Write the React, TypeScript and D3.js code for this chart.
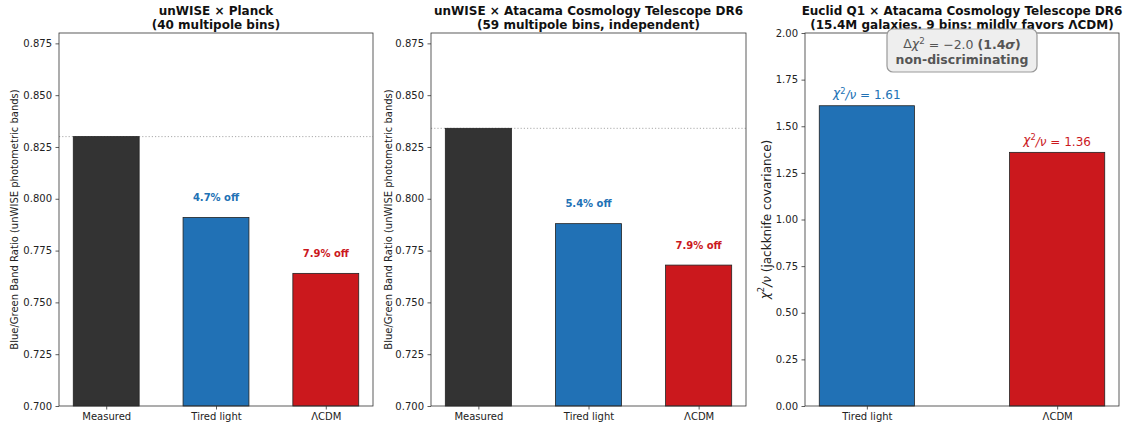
import { useEffect, useRef } from "react";
import * as d3 from "d3";

// bar categories
const ratioCategories = ["Measured", "Tired light", "ΛCDM"];
const chiCategories = ["Tired light", "ΛCDM"];

// blue/green band ratios
const planckValues = [0.83, 0.791, 0.764];
const actValues = [0.834, 0.788, 0.768];
const planckOffLabels = ["", "4.7% off", "7.9% off"];
const actOffLabels = ["", "5.4% off", "7.9% off"];

// reduced chi2 for Euclid Q1 x ACT DR6
const euclidChi2 = [1.61, 1.36];

const ratioTicks = [0.7, 0.725, 0.75, 0.775, 0.8, 0.825, 0.85, 0.875];
const chiTicks = [0, 0.25, 0.5, 0.75, 1.0, 1.25, 1.5, 1.75, 2.0];

const ratioColors = ["#333333", "#2171b5", "#cb181d"];
const chiColors = ["#2171b5", "#cb181d"];

const W = 1133;
const H = 428;
const TOP = 33;
const BOTTOM = 406;
const FONT = "DejaVu Sans, sans-serif";

type Sel = d3.Selection<SVGGElement, unknown, null, undefined>;

function drawFrame(g: Sel, left: number, right: number, y: d3.ScaleLinear<number, number>, ticks: number[], fmt: (v: number) => string) {
  const ax = g
    .append("g")
    .attr("transform", `translate(${left},0)`)
    .call(d3.axisLeft(y).tickValues(ticks).tickFormat((d) => fmt(d as number)).tickSize(3.5).tickPadding(3.5));
  ax.select(".domain").remove();
  ax.selectAll("line").attr("stroke", "#333").attr("stroke-width", 0.8);
  ax.selectAll("text").attr("font-family", FONT).attr("font-size", 10).attr("fill", "#222");
  g.append("rect")
    .attr("x", left)
    .attr("y", TOP)
    .attr("width", right - left)
    .attr("height", BOTTOM - TOP)
    .attr("fill", "none")
    .attr("stroke", "#333")
    .attr("stroke-width", 0.8);
}

function drawXAxis(g: Sel, x: d3.ScaleLinear<number, number>, cats: string[]) {
  const ax = g
    .append("g")
    .attr("transform", `translate(0,${BOTTOM})`)
    .call(d3.axisBottom(x).tickValues(cats.map((_, i) => i)).tickFormat((d) => cats[d as number]).tickSize(3.5).tickPadding(3));
  ax.select(".domain").remove();
  ax.selectAll("line").attr("stroke", "#333").attr("stroke-width", 0.8);
  ax.selectAll("text").attr("font-family", FONT).attr("font-size", 10).attr("fill", "#222");
}

function drawTitle(g: Sel, cx: number, l1: string, l2: string) {
  const t = g
    .append("text")
    .attr("text-anchor", "middle")
    .attr("font-family", FONT)
    .attr("font-size", 12)
    .attr("font-weight", "bold")
    .attr("fill", "#111");
  t.append("tspan").attr("x", cx).attr("y", 15).text(l1);
  t.append("tspan").attr("x", cx).attr("y", 28.5).text(l2);
}

function drawRatioPanel(g: Sel, left: number, right: number, values: number[], offLabels: string[], title: [string, string], ylabelX: number) {
  const y = d3.scaleLinear().domain([0.7, 0.88]).range([BOTTOM, TOP]);
  const x = d3.scaleLinear().domain([-0.43, 2.43]).range([left, right]);
  const bw = x(0.6) - x(0);

  // dotted reference at the measured value
  g.append("line")
    .attr("x1", left)
    .attr("x2", right)
    .attr("y1", y(values[0]))
    .attr("y2", y(values[0]))
    .attr("stroke", "#aaa")
    .attr("stroke-width", 1)
    .attr("stroke-dasharray", "1.2,2");

  g.selectAll(null)
    .data(values)
    .enter()
    .append("rect")
    .attr("x", (_, i) => x(i) - bw / 2)
    .attr("y", (d) => y(d))
    .attr("width", bw)
    .attr("height", (d) => BOTTOM - y(d))
    .attr("fill", (_, i) => ratioColors[i])
    .attr("stroke", "#222")
    .attr("stroke-width", 0.8);

  g.selectAll(null)
    .data(values)
    .enter()
    .append("text")
    .attr("x", (_, i) => x(i))
    .attr("y", (d) => y(d + 0.008))
    .attr("text-anchor", "middle")
    .attr("font-family", FONT)
    .attr("font-size", 10)
    .attr("font-weight", "bold")
    .attr("fill", (_, i) => ratioColors[i])
    .text((_, i) => offLabels[i]);

  drawFrame(g, left, right, y, ratioTicks, d3.format(".3f"));
  drawXAxis(g, x, ratioCategories);
  drawTitle(g, (left + right) / 2, title[0], title[1]);

  g.append("text")
    .attr("transform", `translate(${ylabelX},${(TOP + BOTTOM) / 2}) rotate(-90)`)
    .attr("text-anchor", "middle")
    .attr("dominant-baseline", "central")
    .attr("font-family", FONT)
    .attr("font-size", 10)
    .attr("fill", "#222")
    .text("Blue/Green Band Ratio (unWISE photometric bands)");
}

function chiLabel(t: d3.Selection<SVGTextElement, unknown, null, undefined>, rest: string) {
  t.append("tspan").attr("font-style", "italic").text("χ");
  t.append("tspan").attr("font-size", "0.7em").attr("dy", "-0.45em").text("2");
  t.append("tspan").attr("dy", "0.45em").attr("font-style", "italic").text("/ν");
  t.append("tspan").text(rest);
}

function drawChiPanel(g: Sel, left: number, right: number) {
  const y = d3.scaleLinear().domain([0, 2]).range([BOTTOM, TOP]);
  const x = d3.scaleLinear().domain([-0.325, 1.325]).range([left, right]);
  const bw = x(0.5) - x(0);

  g.selectAll(null)
    .data(euclidChi2)
    .enter()
    .append("rect")
    .attr("x", (_, i) => x(i) - bw / 2)
    .attr("y", (d) => y(d))
    .attr("width", bw)
    .attr("height", (d) => BOTTOM - y(d))
    .attr("fill", (_, i) => chiColors[i])
    .attr("stroke", "#222")
    .attr("stroke-width", 0.8);

  euclidChi2.forEach((v, i) => {
    const t = g
      .append("text")
      .attr("x", x(i))
      .attr("y", y(v + 0.045))
      .attr("text-anchor", "middle")
      .attr("font-family", FONT)
      .attr("font-size", 12)
      .attr("fill", chiColors[i]);
    chiLabel(t as any, ` = ${v.toFixed(2)}`);
  });

  drawFrame(g, left, right, y, chiTicks, d3.format(".2f"));
  drawXAxis(g, x, chiCategories);
  drawTitle(g, (left + right) / 2, "Euclid Q1 × Atacama Cosmology Telescope DR6", "(15.4M galaxies, 9 bins; mildly favors ΛCDM)");

  // verdict box
  const cx = (left + right) / 2;
  g.append("rect")
    .attr("x", cx - 75)
    .attr("y", 29)
    .attr("width", 150)
    .attr("height", 43)
    .attr("rx", 6)
    .attr("fill", "#eeeeee")
    .attr("stroke", "#999")
    .attr("stroke-width", 1.2);
  const t1 = g
    .append("text")
    .attr("x", cx)
    .attr("y", 47.5)
    .attr("text-anchor", "middle")
    .attr("font-family", FONT)
    .attr("font-size", 12.5)
    .attr("fill", "#555");
  t1.append("tspan").text("Δ");
  t1.append("tspan").attr("font-style", "italic").text("χ");
  t1.append("tspan").attr("font-size", "0.7em").attr("dy", "-0.45em").text("2");
  t1.append("tspan").attr("dy", "0.45em").text(" = −2.0 ");
  t1.append("tspan").attr("font-weight", "bold").text("(1.4");
  t1.append("tspan").attr("font-weight", "bold").attr("font-style", "italic").text("σ");
  t1.append("tspan").attr("font-weight", "bold").text(")");
  g.append("text")
    .attr("x", cx)
    .attr("y", 63.5)
    .attr("text-anchor", "middle")
    .attr("font-family", FONT)
    .attr("font-size", 12.5)
    .attr("font-weight", "bold")
    .attr("fill", "#555")
    .text("non-discriminating");

  const yl = g
    .append("text")
    .attr("transform", `translate(765,${(TOP + BOTTOM) / 2}) rotate(-90)`)
    .attr("text-anchor", "middle")
    .attr("dominant-baseline", "central")
    .attr("font-family", FONT)
    .attr("font-size", 12)
    .attr("fill", "#222");
  chiLabel(yl as any, " (jackknife covariance)");
}

export default function App() {
  const svgRef = useRef<SVGSVGElement | null>(null);

  useEffect(() => {
    if (!svgRef.current) return;
    const svg = d3.select(svgRef.current);
    svg.selectAll("*").remove();
    svg.append("rect").attr("width", W).attr("height", H).attr("fill", "#fff");
    const g = svg.append("g") as unknown as Sel;

    drawRatioPanel(g, 59, 373, planckValues, planckOffLabels, ["unWISE × Planck", "(40 multipole bins)"], 14);
    drawRatioPanel(g, 431, 746, actValues, actOffLabels, ["unWISE × Atacama Cosmology Telescope DR6", "(59 multipole bins, independent)"], 388);
    drawChiPanel(g, 805, 1119);
  }, []);

  return (
    <div style={{ position: "absolute", left: 0, top: 0 }}>
      <svg ref={svgRef} width={W} height={H} style={{ display: "block" }}></svg>
    </div>
  );
}
